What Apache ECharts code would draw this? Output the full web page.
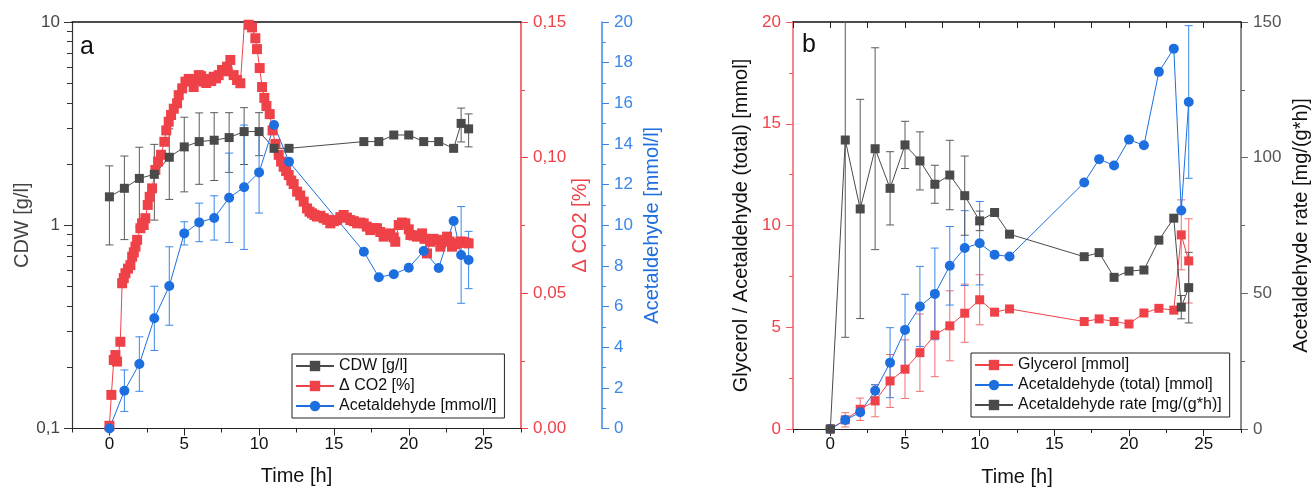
<!DOCTYPE html>
<html>
<head>
<meta charset="utf-8">
<script src="https://cdn.jsdelivr.net/npm/echarts@6.0.0/dist/echarts.min.js"></script>
<style>
html,body{margin:0;padding:0;background:#fff;}
#c{width:1312px;height:493px;}
</style>
</head>
<body>
<div id="c"></div>
<script>
// ---------- DATA ----------
const xTickLabels = [0, 5, 10, 15, 20, 25];
const xMinorTicks = [-2.5, 2.5, 7.5, 12.5, 17.5, 22.5, 27.5];

// Panel a
const timeA = [0,1,2,3,4,5,6,7,8,9,10,11,12,17,18,19,20,21,22,23,23.5,24];
const cdwVal = [1.38,1.52,1.70,1.78,2.16,2.43,2.58,2.62,2.70,2.89,2.89,2.39,2.39,2.58,2.58,2.78,2.78,2.58,2.58,2.39,3.17,2.98];
const cdwErr = [0.58,0.67,0.72,0.72,0.82,0.97,0.99,0.96,0.88,0.90,0.69,0,0,0,0,0,0,0,0,0,0.60,0.55];
const acetVal = [0,1.86,3.17,5.42,7.01,9.60,10.14,10.36,11.35,11.87,12.60,14.93,13.13,8.70,7.44,7.59,7.91,8.73,7.90,10.21,8.54,8.29];
const acetErr = [0,1.02,1.34,1.58,1.93,0.57,0.95,1.09,2.20,3.06,2.00,0,0,0,0,0,0,0,0,0,2.38,1.41];

const co2Time = [0,0.13,0.29,0.40,0.51,0.73,0.85,0.96,1.07,1.24,1.40,1.52,1.63,1.74,1.85,2.07,2.18,2.29,2.40,2.56,2.69,2.85,
  3.07,3.25,3.45,3.67,3.80,3.96,4.12,4.30,4.52,4.63,4.86,5.08,5.30,5.47,5.63,5.80,5.97,6.13,6.30,6.47,6.63,6.80,6.97,
  7.13,7.30,7.52,7.69,7.86,8.08,8.30,8.53,8.75,9.10,9.30,9.53,9.75,9.86,10.04,10.20,10.35,10.49,10.71,10.90,11.09,
  11.31,11.47,11.64,11.81,11.98,12.15,12.31,12.54,12.75,12.98,13.20,13.37,13.54,13.70,13.87,14.10,14.32,14.54,14.76,
  15.00,15.21,15.43,15.65,15.87,16.10,16.33,16.55,16.77,16.99,17.20,17.43,17.65,17.88,18.10,18.32,18.55,18.77,19.00,
  19.10,19.33,19.55,19.77,20.00,20.11,20.33,20.55,20.72,20.89,21.05,21.22,21.44,21.66,21.89,22.11,22.33,22.56,22.72,
  22.89,23.06,23.23,23.45,23.67,23.84,24.00];
const co2Val = [0.001,0.0124,0.0253,0.0271,0.0247,0.0320,0.0536,0.0555,0.0573,0.0590,0.0603,0.0634,0.0650,0.0671,0.0696,0.0739,0.0757,0.0751,0.0776,0.0825,0.0855,0.0886,
  0.0954,0.0985,0.1010,0.1058,0.1100,0.1132,0.1157,0.1180,0.1200,0.1230,0.1255,0.1280,0.1290,0.1285,0.1260,0.1285,0.1304,0.1300,0.1280,0.1275,0.1290,0.1282,0.1298,
  0.1292,0.1304,0.1323,0.1318,0.1335,0.1360,0.1304,0.1286,0.1274,0.1560,0.1490,0.1480,0.1440,0.1400,0.1330,0.1260,0.1220,0.1190,0.1160,0.1100,0.1050,
  0.1010,0.0985,0.0966,0.0950,0.0935,0.0915,0.0902,0.0874,0.0860,0.0837,0.0812,0.0800,0.0794,0.0788,0.0782,0.0785,0.0776,0.0770,0.0757,
  0.0765,0.0769,0.0780,0.0788,0.0778,0.0769,0.0765,0.0757,0.0760,0.0757,0.0745,0.0732,0.0740,0.0739,0.0725,0.0708,0.0715,0.0720,0.0705,
  0.0689,0.0751,0.0760,0.0757,0.0735,0.0714,0.0712,0.0708,0.0712,0.0720,0.0700,0.0646,0.0689,0.0700,0.0696,0.0671,0.0690,0.0708,0.0690,
  0.0671,0.0680,0.0683,0.0690,0.0689,0.0685,0.0683];

// Panel b
const timeB = [0,1,2,3,4,5,6,7,8,9,10,11,12,17,18,19,20,21,22,23,23.5,24];
const glyVal = [0,0.45,0.97,1.38,2.36,2.94,3.75,4.62,5.07,5.69,6.35,5.74,5.90,5.28,5.41,5.28,5.16,5.70,5.93,5.84,9.54,8.26];
const glyErr = [0,0.35,0.55,0.78,1.30,1.44,1.90,2.05,1.72,1.43,1.23,0,0,0,0,0,0,0,0,0,1.72,2.07];
const acetTotVal = [0,0.44,0.82,1.88,3.26,4.87,6.02,6.64,8.02,8.89,9.13,8.56,8.48,12.11,13.26,12.95,14.22,13.94,17.55,18.69,10.74,16.07];
const acetTotErr = [0,0.10,0.10,0.30,1.72,1.75,1.97,2.25,1.93,1.84,2.05,0,0,0,0,0,0,0,0,0,0,3.75];
const rateVal = [0,106.5,81.1,103.3,88.7,104.7,98.8,90.2,93.6,86.0,76.7,79.8,71.8,63.5,65.0,55.9,58.2,58.6,69.6,77.7,44.9,52.1];
const rateErr = [0,72.7,40.4,37.2,13.5,8.7,10.7,7.0,12.8,14.6,3.6,0,0,0,0,0,0,0,0,0,4.3,13.0];

// ---------- STYLE ----------
const RED = '#ef4148';
const BLUE = '#1d6fe0';
const GREY = '#4a4a4a';
const FONT = 'Liberation Sans, Arial, sans-serif';

function pairs(t, v) { return t.map((x, i) => [x, v[i]]); }
function errs(t, v, e) {
  const out = [];
  t.forEach((x, i) => { if (e[i] > 0) out.push([x, v[i] - e[i], v[i] + e[i]]); });
  return out;
}
function errRender(color) {
  return function (params, api) {
    const x = api.value(0), lo = api.value(1), hi = api.value(2);
    const a = api.coord([x, hi]), b = api.coord([x, lo]);
    const w = 4;
    const st = { stroke: color, lineWidth: 1 };
    return { type: 'group', children: [
      { type: 'line', shape: { x1: a[0], y1: a[1], x2: b[0], y2: b[1] }, style: st },
      { type: 'line', shape: { x1: a[0] - w, y1: a[1], x2: a[0] + w, y2: a[1] }, style: st },
      { type: 'line', shape: { x1: b[0] - w, y1: b[1], x2: b[0] + w, y2: b[1] }, style: st }
    ]};
  };
}
function errSeries(xi, yi, data, color) {
  return { type: 'custom', xAxisIndex: xi, yAxisIndex: yi, data: data, renderItem: errRender(color),
    encode: { x: 0, y: [1, 2] }, clip: true, silent: true };
}
const fmtComma = d => v => v.toFixed(d).replace('.', ',');

function xMain(grid, name) {
  return { gridIndex: grid, type: 'value', position: 'bottom', min: -2.5, max: 27.5,
    name: name, nameLocation: 'middle', nameGap: 38,
    nameTextStyle: { fontSize: 20, color: '#111', fontFamily: FONT },
    axisLine: { onZero: false, lineStyle: { color: '#222', width: 1.2 } },
    axisTick: { customValues: xTickLabels, length: 7, lineStyle: { color: '#222' } },
    axisLabel: { customValues: xTickLabels, fontSize: 17, color: '#111', margin: 7, fontFamily: FONT },
    splitLine: { show: false } };
}
function xMinor(grid) {
  return { gridIndex: grid, type: 'value', position: 'bottom', min: -2.5, max: 27.5,
    axisLine: { show: false, onZero: false },
    axisTick: { customValues: xMinorTicks, length: 4, lineStyle: { color: '#222' } },
    axisLabel: { show: false }, splitLine: { show: false } };
}
function xTop(grid, ticks) {
  return { gridIndex: grid, type: 'value', position: 'top', min: -2.5, max: 27.5,
    axisLine: { onZero: false, lineStyle: { color: '#111', width: 1.5 } },
    axisTick: ticks ? { inside: true, customValues: xTickLabels.concat(xMinorTicks), length: 6, lineStyle: { color: '#222' } } : { show: false },
    axisLabel: { show: false }, splitLine: { show: false } };
}

// log-space minor tick positions for the CDW axis (overlay axis from -1 to 1)
const logMinor = [];
[2,3,4,5,6,7,8,9].forEach(k => { logMinor.push(Math.log10(k) - 1); logMinor.push(Math.log10(k)); });

const legendBase = { orient: 'vertical', itemWidth: 38, itemHeight: 13, itemGap: 4, padding: [4, 8, 4, 3],
  borderColor: '#222', borderWidth: 1, backgroundColor: '#fff',
  textStyle: { fontSize: 16, color: '#111', fontFamily: FONT } };

const option = {
  animation: false,
  backgroundColor: '#fff',
  textStyle: { fontFamily: FONT },
  title: [
    { text: 'a', left: 80, top: 35, padding: 0, textStyle: { fontSize: 25, fontWeight: 'normal', color: '#111', fontFamily: FONT } },
    { text: 'b', left: 802, top: 33, padding: 0, textStyle: { fontSize: 25, fontWeight: 'normal', color: '#111', fontFamily: FONT } }
  ],
  grid: [
    { left: 72, top: 22, width: 449, height: 406.5 },
    { left: 793, top: 22, width: 449, height: 407 }
  ],
  legend: [
    Object.assign({ data: ['CDW [g/l]', 'Δ CO2 [%]', 'Acetaldehyde [mmol/l]'], left: 292, top: 354 }, legendBase),
    Object.assign({ data: ['Glycerol [mmol]', 'Acetaldehyde (total) [mmol]', 'Acetaldehyde rate [mg/(g*h)]'], left: 971, top: 353 }, legendBase)
  ],
  xAxis: [
    xMain(0, 'Time [h]'), xMinor(0), xTop(0, false),
    xMain(1, 'Time [h]'), xMinor(1), xTop(1, true)
  ],
  yAxis: [
    { gridIndex: 0, type: 'log', logBase: 10, min: 0.1, max: 10, position: 'left',
      name: 'CDW [g/l]', nameLocation: 'middle', nameGap: 40,
      nameTextStyle: { fontSize: 20, color: '#444', fontFamily: FONT },
      axisLine: { show: true, onZero: false, lineStyle: { color: '#333', width: 1.2 } },
      axisTick: { length: 8, lineStyle: { color: '#333' } },
      axisLabel: { fontSize: 17, color: '#444', margin: 12, fontFamily: FONT, formatter: v => String(v).replace('.', ',') },
      splitLine: { show: false }, minorTick: { show: false } },
    { gridIndex: 0, type: 'value', min: -1, max: 1, position: 'left',
      axisLine: { show: false, onZero: false },
      axisTick: { customValues: logMinor, length: 5, lineStyle: { color: '#333' } },
      axisLabel: { show: false }, splitLine: { show: false } },
    { gridIndex: 0, type: 'value', min: 0, max: 0.15, interval: 0.05, position: 'right',
      name: 'Δ CO2 [%]', nameLocation: 'middle', nameGap: 48,
      nameTextStyle: { fontSize: 20, color: RED, fontFamily: FONT },
      axisLine: { show: true, onZero: false, lineStyle: { color: RED, width: 1.5 } },
      axisTick: { length: 7, lineStyle: { color: RED } },
      minorTick: { show: true, splitNumber: 2, length: 4, lineStyle: { color: RED } },
      axisLabel: { fontSize: 17, color: RED, margin: 12, fontFamily: FONT, formatter: fmtComma(2) },
      splitLine: { show: false }, minorSplitLine: { show: false } },
    { gridIndex: 0, type: 'value', min: 0, max: 20, interval: 2, position: 'right', offset: 81,
      name: 'Acetaldehyde [mmol/l]', nameLocation: 'middle', nameGap: 40,
      nameTextStyle: { fontSize: 20, color: BLUE, fontFamily: FONT },
      axisLine: { show: true, onZero: false, lineStyle: { color: '#3a86ea', width: 1.5 } },
      axisTick: { length: 7, lineStyle: { color: '#3a86ea' } },
      minorTick: { show: true, splitNumber: 2, length: 4, lineStyle: { color: '#3a86ea' } },
      axisLabel: { fontSize: 17, color: '#3a86ea', margin: 12, fontFamily: FONT },
      splitLine: { show: false }, minorSplitLine: { show: false } },
    { gridIndex: 1, type: 'value', min: 0, max: 20, interval: 5, position: 'left',
      name: 'Glycerol / Acetaldehyde (total) [mmol]', nameLocation: 'middle', nameGap: 42,
      nameTextStyle: { fontSize: 20, color: '#111', fontFamily: FONT },
      axisLine: { show: true, onZero: false, lineStyle: { color: '#f25c62', width: 1.5 } },
      axisTick: { length: 7, lineStyle: { color: '#f25c62' } },
      minorTick: { show: true, splitNumber: 2, length: 4, lineStyle: { color: '#f25c62' } },
      axisLabel: { fontSize: 17, color: RED, margin: 12, fontFamily: FONT },
      splitLine: { show: false }, minorSplitLine: { show: false } },
    { gridIndex: 1, type: 'value', min: 0, max: 150, interval: 50, position: 'right',
      name: 'Acetaldehyde rate [mg/(g*h)]', nameLocation: 'middle', nameGap: 50,
      nameTextStyle: { fontSize: 20, color: '#111', fontFamily: FONT },
      axisLine: { show: true, onZero: false, lineStyle: { color: '#666', width: 1.5 } },
      axisTick: { length: 7, lineStyle: { color: '#666' } },
      minorTick: { show: true, splitNumber: 2, length: 4, lineStyle: { color: '#666' } },
      axisLabel: { fontSize: 17, color: '#555', margin: 12, fontFamily: FONT },
      splitLine: { show: false }, minorSplitLine: { show: false } }
  ],
  series: [
    // Panel a
    { name: 'Δ CO2 [%]', type: 'line', xAxisIndex: 0, yAxisIndex: 2, data: pairs(co2Time, co2Val),
      symbol: 'rect', symbolSize: 10, showAllSymbol: true, clip: true,
      itemStyle: { color: RED }, lineStyle: { color: RED, width: 1 } },
    errSeries(0, 0, errs(timeA, cdwVal, cdwErr), '#5a5a5a'),
    { name: 'CDW [g/l]', type: 'line', xAxisIndex: 0, yAxisIndex: 0, data: pairs(timeA, cdwVal),
      symbol: 'rect', symbolSize: 9, showAllSymbol: true,
      itemStyle: { color: GREY }, lineStyle: { color: GREY, width: 1 } },
    errSeries(0, 3, errs(timeA, acetVal, acetErr), '#3a86ea'),
    { name: 'Acetaldehyde [mmol/l]', type: 'line', xAxisIndex: 0, yAxisIndex: 3, data: pairs(timeA, acetVal),
      symbol: 'circle', symbolSize: 10, showAllSymbol: true,
      itemStyle: { color: BLUE }, lineStyle: { color: BLUE, width: 1 } },
    // Panel b
    errSeries(3, 4, errs(timeB, glyVal, glyErr), '#f36d72'),
    { name: 'Glycerol [mmol]', type: 'line', xAxisIndex: 3, yAxisIndex: 4, data: pairs(timeB, glyVal),
      symbol: 'rect', symbolSize: 9, showAllSymbol: true,
      itemStyle: { color: RED }, lineStyle: { color: RED, width: 1 } },
    errSeries(3, 4, errs(timeB, acetTotVal, acetTotErr), '#3a86ea'),
    { name: 'Acetaldehyde (total) [mmol]', type: 'line', xAxisIndex: 3, yAxisIndex: 4, data: pairs(timeB, acetTotVal),
      symbol: 'circle', symbolSize: 10, showAllSymbol: true,
      itemStyle: { color: BLUE }, lineStyle: { color: BLUE, width: 1 } },
    errSeries(3, 5, errs(timeB, rateVal, rateErr), '#5a5a5a'),
    { name: 'Acetaldehyde rate [mg/(g*h)]', type: 'line', xAxisIndex: 3, yAxisIndex: 5, data: pairs(timeB, rateVal),
      symbol: 'rect', symbolSize: 9, showAllSymbol: true, clip: true,
      itemStyle: { color: GREY }, lineStyle: { color: GREY, width: 1 } }
  ]
};

const chart = echarts.init(document.getElementById('c'), null, { renderer: 'canvas' });
chart.setOption(option);
</script>
</body>
</html>
